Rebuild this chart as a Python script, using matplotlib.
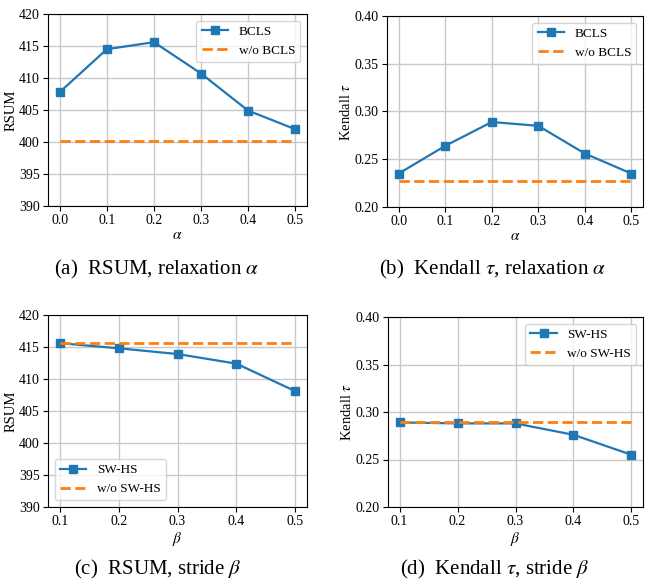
import matplotlib
matplotlib.use("Agg")
import matplotlib.pyplot as plt

plt.rcParams['font.family'] = ['Liberation Serif', 'DejaVu Serif']
plt.rcParams['mathtext.fontset'] = 'stix'
plt.rcParams['font.size'] = 9.5

alpha = [0.0, 0.1, 0.2, 0.3, 0.4, 0.5]
beta = [0.1, 0.2, 0.3, 0.4, 0.5]

rsum_bcls = [407.8, 414.5, 415.6, 410.7, 404.9, 402.0]
rsum_no_bcls = 400.1
tau_bcls = [0.235, 0.264, 0.289, 0.285, 0.256, 0.235]
tau_no_bcls = 0.227

rsum_swhs = [415.6, 414.8, 413.9, 412.4, 408.1]
rsum_no_swhs = 415.7
tau_swhs = [0.289, 0.288, 0.288, 0.276, 0.255]
tau_no_swhs = 0.290

captions = [r"(a)  RSUM, relaxation $\alpha$",
            r"(b)  Kendall $\tau$, relaxation $\alpha$",
            r"(c)  RSUM, stride $\beta$",
            r"(d)  Kendall $\tau$, stride $\beta$"]

W, H = 645, 579
fig = plt.figure(figsize=(W / 100, H / 100), dpi=100)


def ax_at(l, t, r, b):
    return fig.add_axes([l / W, 1 - b / H, (r - l) / W, (b - t) / H])


panels = [
    (ax_at(48, 14, 307, 206), alpha, rsum_bcls, rsum_no_bcls, "BCLS",
     r"$\alpha$", "RSUM", (390, 420), [390, 395, 400, 405, 410, 415, 420], "upper right"),
    (ax_at(387, 16, 643, 207), alpha, tau_bcls, tau_no_bcls, "BCLS",
     r"$\alpha$", r"Kendall $\tau$", (0.2, 0.4), [0.20, 0.25, 0.30, 0.35, 0.40], "upper right"),
    (ax_at(48, 315, 307, 507), beta, rsum_swhs, rsum_no_swhs, "SW-HS",
     r"$\beta$", "RSUM", (390, 420), [390, 395, 400, 405, 410, 415, 420], "lower left"),
    (ax_at(388, 317, 643, 507), beta, tau_swhs, tau_no_swhs, "SW-HS",
     r"$\beta$", r"Kendall $\tau$", (0.2, 0.4), [0.20, 0.25, 0.30, 0.35, 0.40], "upper right"),
]

for ax, x, y, base, name, xl, yl, ylim, yt, loc in panels:
    ax.plot(x, y, marker='s', markersize=6, linewidth=1.6, color='#1f77b4', label=name)
    ax.plot(x, [base] * len(x), '--', linewidth=2, color='#ff7f0e', label='w/o ' + name)
    ax.set_ylim(*ylim)
    ax.set_yticks(yt)
    if ylim[1] < 1:
        ax.set_yticklabels(["%.2f" % v for v in yt])
    ax.set_xticks(x)
    ax.set_xticklabels(["%.1f" % v for v in x])
    ax.tick_params(labelsize=10, pad=2.5)
    ax.set_xlabel(xl, labelpad=1, fontsize=11)
    ax.set_ylabel(yl, labelpad=1, fontsize=10.5)
    ax.grid(True, color='#c8c8c8', linewidth=1)
    ax.set_axisbelow(True)
    ax.legend(loc=loc, fontsize=9.5)

cap_pos = [(157, 274), (493, 274), (158, 574), (495, 574)]
for (cx, cy), txt in zip(cap_pos, captions):
    fig.text(cx / W, 1 - cy / H, txt, ha='center', va='baseline', fontsize=15)

fig.savefig("out.png", dpi=100)
